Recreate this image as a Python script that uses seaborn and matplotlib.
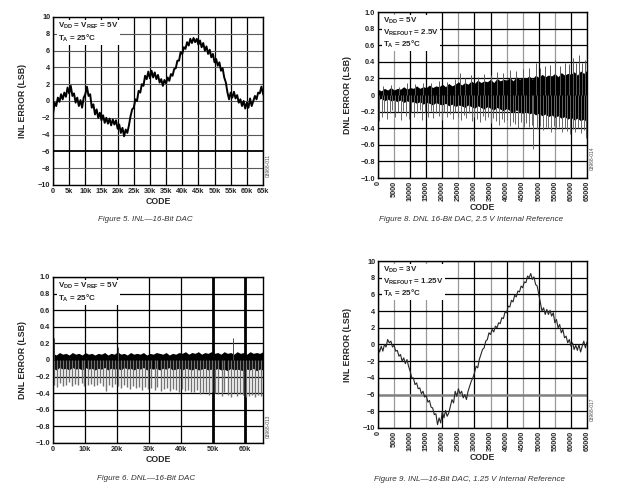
import numpy as np
import pandas as pd
import matplotlib
matplotlib.use("Agg")
import matplotlib.pyplot as plt
import seaborn as sns

sns.set_theme(style="white")
plt.rcParams["font.family"] = ["Liberation Sans", "DejaVu Sans"]
plt.rcParams["mathtext.default"] = "regular"

# Figure 5 : INL 16 bits, VDD = VREF = 5V (lu tous les 500 codes)
inl5_code = np.arange(0, 65501, 500)
inl5_lsb = [-1.5, -0.2, -0.6, 0.4, -0.1, 0.8, 0.2, 1.0, 0.5, 1.6,
            0.9, 1.8, 0.6, 0.9, -0.2, 0.4, -0.6, 0.1, -0.8, 0.4,
            0.8, 1.7, 0.6, 0.8, -0.8, -0.4, -1.6, -1.0, -2.0, -1.4,
            -2.3, -1.7, -2.6, -2.0, -2.7, -2.1, -2.9, -2.2, -2.8, -2.3,
            -3.3, -2.8, -3.8, -3.2, -4.2, -3.4, -3.8, -2.9, -1.8, -1.0,
            -0.8, 0.2, 0.0, 1.2, 1.0, 2.0, 1.8, 3.0, 2.6, 3.5,
            2.7, 3.6, 2.8, 3.4, 2.6, 3.1, 2.2, 2.6, 1.8, 2.5,
            2.1, 2.8, 2.4, 3.2, 3.0, 3.8, 3.9, 4.8, 4.8, 5.8,
            5.6, 6.4, 6.2, 7.0, 6.6, 7.4, 6.9, 7.5, 7.0, 7.4,
            6.7, 7.2, 6.4, 6.9, 6.0, 6.5, 5.6, 6.1, 5.2, 5.6,
            4.6, 5.0, 4.2, 4.6, 3.6, 3.9, 2.8, 2.2, 1.0, 0.2,
            1.0, 0.4, 1.1, 0.3, 0.7, -0.2, 0.2, -0.6, 0.0, -0.9,
            -0.2, -0.8, 0.3, -0.6, 0.0, 0.6, 0.2, 1.0, 0.9, 1.7,
            0.9, 0.4]

# Figure 9 : INL 16 bits, reference interne 1.25V
inl9_code = np.arange(0, 65501, 500)
inl9_lsb = [-0.3, -0.9, -0.2, -0.8, 0.0, -0.3, 0.6, 0.2, 0.4, -0.3,
            -0.1, -0.8, -0.7, -1.4, -1.2, -2.0, -1.6, -2.3, -1.8, -2.6,
            -3.2, -4.0, -4.0, -4.8, -4.6, -5.3, -5.2, -5.9, -5.6, -6.3,
            -6.1, -6.9, -6.7, -7.5, -7.6, -8.4, -8.3, -9.6, -8.8, -9.4,
            -8.0, -8.8, -7.9, -8.6, -8.2, -7.4, -6.6, -7.0, -5.6, -6.2,
            -5.3, -5.9, -5.6, -6.4, -6.0, -6.6, -5.6, -5.0, -4.4, -4.0,
            -3.4, -2.6, -2.8, -1.8, -1.2, -0.6, -0.4, 0.4, 0.6, 1.4,
            1.2, 1.8, 1.5, 2.2, 2.0, 2.6, 2.5, 3.2, 3.1, 3.9,
            3.8, 4.6, 4.5, 5.3, 5.1, 5.9, 5.7, 6.4, 6.3, 7.0,
            6.8, 7.5, 7.4, 8.2, 8.0, 8.5, 7.8, 8.1, 7.2, 7.0,
            6.0, 5.0, 4.0, 4.4, 3.6, 4.2, 3.6, 4.1, 3.4, 3.8,
            2.6, 3.0, 2.0, 2.4, 1.4, 1.8, 0.8, 1.0, 0.2, 0.6,
            -0.2, 0.2, -0.6, -0.1, -0.7, 0.0, -0.9, -0.2, 0.4, -0.4,
            0.3, 0.0]

# Figure 8 : DNL 16 bits, reference interne 2.5V (bande noire lue tous les 1000 codes + pics)
dnl8_code = np.arange(0, 65001, 1000)
dnl8_haut = [0.07, 0.05, 0.08, 0.06, 0.09, 0.06, 0.08, 0.07, 0.10, 0.07,
             0.09, 0.08, 0.11, 0.08, 0.10, 0.09, 0.12, 0.09, 0.11, 0.10,
             0.13, 0.10, 0.14, 0.11, 0.13, 0.16, 0.12, 0.15, 0.13, 0.17,
             0.14, 0.18, 0.15, 0.17, 0.16, 0.19, 0.15, 0.20, 0.17, 0.19,
             0.18, 0.21, 0.17, 0.22, 0.19, 0.21, 0.20, 0.23, 0.19, 0.24,
             0.21, 0.25, 0.22, 0.24, 0.23, 0.26, 0.22, 0.27, 0.24, 0.26,
             0.25, 0.28, 0.24, 0.29, 0.26, 0.30]
dnl8_bas = [-0.06, -0.04, -0.07, -0.05, -0.07, -0.06, -0.08, -0.06, -0.09, -0.07,
            -0.09, -0.08, -0.10, -0.08, -0.11, -0.09, -0.10, -0.12, -0.09, -0.11,
            -0.12, -0.10, -0.13, -0.11, -0.14, -0.12, -0.13, -0.15, -0.12, -0.14,
            -0.16, -0.13, -0.15, -0.17, -0.14, -0.16, -0.18, -0.15, -0.17, -0.19,
            -0.16, -0.19, -0.21, -0.18, -0.20, -0.22, -0.19, -0.23, -0.21, -0.24,
            -0.22, -0.25, -0.23, -0.26, -0.24, -0.27, -0.25, -0.28, -0.26, -0.29,
            -0.27, -0.30, -0.28, -0.31, -0.29, -0.33]
dnl8_pic_bas_code = [300, 1100, 1900, 2800, 3600, 4500, 5300, 6200, 7000, 7900,
                     8700, 9600, 10400, 11300, 12100, 13000, 13800, 14700, 15500, 16400,
                     17200, 18100, 18900, 19800, 20600, 21500, 22300, 23200, 24000, 24900,
                     25700, 26600, 27400, 28300, 29100, 30000, 30800, 31700, 32500, 33400,
                     34200, 35100, 35900, 36800, 37600, 38500, 39300, 40200, 41000, 41900,
                     42700, 43600, 44400, 45300, 46100, 47000, 47800, 48300, 49500, 50400,
                     51200, 52100, 52900, 53800, 54600, 55500, 56300, 57200, 58000, 58900,
                     59700, 60600, 61400, 62300, 63100, 64000, 64800]
dnl8_pic_bas = [-0.31, -0.26, -0.20, -0.29, -0.22, -0.18, -0.27, -0.21, -0.30, -0.19,
                -0.25, -0.29, -0.20, -0.27, -0.22, -0.18, -0.30, -0.21, -0.26, -0.19,
                -0.28, -0.22, -0.25, -0.30, -0.20, -0.27, -0.23, -0.29, -0.21, -0.26,
                -0.30, -0.24, -0.28, -0.22, -0.31, -0.26, -0.29, -0.33, -0.25, -0.30,
                -0.27, -0.34, -0.28, -0.31, -0.36, -0.29, -0.33, -0.30, -0.37, -0.32,
                -0.35, -0.40, -0.33, -0.38, -0.34, -0.39, -0.36, -0.65, -0.41, -0.37,
                -0.42, -0.38, -0.40, -0.44, -0.37, -0.41, -0.39, -0.45, -0.40, -0.43,
                -0.47, -0.41, -0.44, -0.40, -0.46, -0.42, -0.52]
dnl8_pic_haut_code = [1500, 4000, 6500, 9000, 11500, 14000, 16500, 19000, 21500, 24000,
                      25500, 27000, 29000, 31000, 33000, 35000, 37000, 39000, 41000, 43000,
                      45000, 47000, 49000, 50500, 52000, 53500, 55000, 56500, 58000, 59500,
                      60500, 61500, 62500, 63500, 64500]
dnl8_pic_haut = [0.11, 0.12, 0.10, 0.14, 0.13, 0.15, 0.14, 0.17, 0.16, 0.19,
                 0.27, 0.21, 0.24, 0.22, 0.25, 0.24, 0.28, 0.27, 0.30, 0.29,
                 0.31, 0.33, 0.38, 0.32, 0.35, 0.36, 0.42, 0.35, 0.38, 0.37,
                 0.45, 0.39, 0.48, 0.38, 0.42]

# Figure 6 : DNL 16 bits, VDD = VREF = 5V
dnl6_code = np.linspace(0, 65535, 66)
dnl6_haut = [0.08, 0.06, 0.09, 0.07, 0.08, 0.06, 0.09, 0.07, 0.08, 0.06,
             0.09, 0.07, 0.08, 0.06, 0.08, 0.07, 0.09, 0.06, 0.08, 0.07,
             0.10, 0.07, 0.08, 0.06, 0.09, 0.07, 0.08, 0.07, 0.09, 0.06,
             0.08, 0.07, 0.09, 0.08, 0.07, 0.09, 0.06, 0.08, 0.07, 0.09,
             0.08, 0.10, 0.07, 0.09, 0.08, 0.10, 0.07, 0.09, 0.08, 0.10,
             0.08, 0.09, 0.07, 0.10, 0.08, 0.09, 0.07, 0.10, 0.08, 0.09,
             0.07, 0.10, 0.08, 0.09, 0.08, 0.10]
dnl6_bas = [-0.10, -0.12, -0.09, -0.11, -0.10, -0.12, -0.09, -0.11, -0.10, -0.12,
            -0.09, -0.11, -0.10, -0.12, -0.10, -0.11, -0.09, -0.12, -0.10, -0.11,
            -0.10, -0.12, -0.09, -0.11, -0.10, -0.12, -0.10, -0.11, -0.09, -0.12,
            -0.10, -0.11, -0.10, -0.12, -0.10, -0.11, -0.09, -0.12, -0.11, -0.10,
            -0.12, -0.10, -0.11, -0.12, -0.10, -0.12, -0.11, -0.10, -0.12, -0.11,
            -0.12, -0.10, -0.12, -0.11, -0.13, -0.10, -0.12, -0.11, -0.12, -0.13,
            -0.11, -0.12, -0.10, -0.13, -0.11, -0.12]
dnl6_pic_code = [400, 1300, 2300, 3200, 4100, 5100, 6000, 7000, 7900, 8900,
                 9800, 10800, 11700, 12700, 13600, 14600, 15500, 16500, 17400, 18400,
                 19300, 20300, 21200, 22200, 23100, 24100, 25000, 26000, 26900, 27900,
                 28800, 29800, 30700, 31700, 32600, 33600, 34500, 35500, 36400, 37400,
                 38300, 39300, 40200, 41200, 42100, 43100, 44000, 45000, 45900, 46900,
                 47800, 48800, 49700, 50700, 51600, 52600, 53500, 54500, 55400, 56400,
                 57300, 58300, 59200, 60200, 61100, 62100, 63000, 64000, 64900]
dnl6_pic = [-0.30, -0.32, -0.28, -0.31, -0.30, -0.27, -0.31, -0.29, -0.30, -0.28,
            -0.31, -0.30, -0.29, -0.31, -0.30, -0.28, -0.31, -0.37, -0.30, -0.33,
            -0.29, -0.31, -0.34, -0.30, -0.33, -0.35, -0.31, -0.34, -0.33, -0.36,
            -0.32, -0.35, -0.34, -0.36, -0.33, -0.37, -0.35, -0.34, -0.37, -0.35,
            -0.36, -0.38, -0.35, -0.37, -0.36, -0.39, -0.38, -0.36, -0.41, -0.40,
            -0.38, -0.42, -0.39, -0.40, -0.41, -0.43, -0.39, -0.42, -0.44, -0.40,
            -0.43, -0.41, -0.42, -0.44, -0.43, -0.42, -0.44, -0.42, -0.43]
dnl6_pic_haut_code = [300, 20300, 56300]
dnl6_pic_haut = [0.27, 0.16, 0.27]

# graduations
inl_yticks = [10, 8, 6, 4, 2, 0, -2, -4, -6, -8, -10]
inl_ylabels = ["10", "8", "6", "4", "2", "0", "\u22122", "\u22124", "\u22126",
               "\u22128", "\u221210"]
dnl_yticks = [1.0, 0.8, 0.6, 0.4, 0.2, 0, -0.2, -0.4, -0.6, -0.8, -1.0]
dnl_ylabels = ["1.0", "0.8", "0.6", "0.4", "0.2", "0", "\u22120.2", "\u22120.4",
               "\u22120.6", "\u22120.8", "\u22121.0"]
k5_ticks = list(range(0, 65001, 5000))
k5_labels = ["0", "5k", "10k", "15k", "20k", "25k", "30k", "35k", "40k", "45k",
             "50k", "55k", "60k", "65k"]
k10_ticks = list(range(0, 60001, 10000))
k10_labels = ["0", "10k", "20k", "30k", "40k", "50k", "60k"]
full_labels = [str(v) for v in k5_ticks]


def habillage(ax, xt, xl, yt, yl, ylabel, rot=0, ylabelpad=4):
    ax.set_xticks(xt)
    ax.set_xticklabels(xl, rotation=rot, fontsize=5.3, fontweight="bold")
    ax.set_yticks(yt)
    ax.set_yticklabels(yl, fontsize=5.3, fontweight="bold")
    ax.tick_params(length=0, pad=2)
    ax.grid(True, color="black", linewidth=0.9)
    ax.set_axisbelow(True)
    for s in ax.spines.values():
        s.set_color("black")
        s.set_linewidth(1.0)
    ax.set_xlabel("CODE", fontsize=6.3, fontweight="bold", labelpad=1.5)
    ax.set_ylabel(ylabel, fontsize=6.3, fontweight="bold", labelpad=ylabelpad)


def note(ax, txt):
    ax.text(0.025, 0.975, txt, transform=ax.transAxes, fontsize=5.8,
            fontweight="bold", va="top", ha="left", linespacing=1.15,
            bbox=dict(facecolor="white", edgecolor="none", pad=0.6), zorder=5)


fig = plt.figure(figsize=(6.2, 4.92), dpi=100)
ax5 = fig.add_axes([0.0855, 0.624, 0.3387, 0.3415])
ax8 = fig.add_axes([0.6097, 0.6382, 0.3371, 0.3374])
ax6 = fig.add_axes([0.0855, 0.0996, 0.3387, 0.3374])
ax9 = fig.add_axes([0.6097, 0.1301, 0.3371, 0.3394])

# --- Figure 5
df5 = pd.DataFrame({"code": inl5_code, "lsb": inl5_lsb})
sns.lineplot(data=df5, x="code", y="lsb", ax=ax5, color="black", linewidth=1.4)
ax5.set_xlim(0, 65000)
ax5.set_ylim(-10, 10)
habillage(ax5, k5_ticks, k5_labels, inl_yticks, inl_ylabels,
          "INL ERROR (LSB)", ylabelpad=8)
for gl in ax5.get_ygridlines():
    gl.set_color("0.35")
    gl.set_linewidth(0.8)
ax5.get_ygridlines()[8].set_color("black")
ax5.get_ygridlines()[8].set_linewidth(1.3)
note(ax5, "V$_{DD}$ = V$_{REF}$ = 5V\nT$_A$ = 25\u00b0C")

# --- Figure 8
ax8.vlines(dnl8_pic_bas_code, 0, dnl8_pic_bas, color="0.4", linewidth=0.7)
ax8.vlines(dnl8_pic_haut_code, 0, dnl8_pic_haut, color="0.35", linewidth=0.7)
ax8.fill_between(dnl8_code, dnl8_bas, dnl8_haut, color="black", linewidth=0)
ax8.set_xlim(0, 65000)
ax8.set_ylim(-1, 1)
habillage(ax8, k5_ticks, full_labels, dnl_yticks, dnl_ylabels,
          "DNL ERROR (LSB)", rot=90, ylabelpad=6)
for i in [1, 5, 8, 9, 11, 13]:
    ax8.get_xgridlines()[i].set_color("0.6")
note(ax8, "V$_{DD}$ = 5V\nV$_{REFOUT}$ = 2.5V\nT$_A$ = 25\u00b0C")

# --- Figure 6
ax6.vlines(dnl6_pic_code, 0, dnl6_pic, color="0.45", linewidth=1.0)
ax6.vlines(dnl6_pic_haut_code, 0, dnl6_pic_haut, color="0.3", linewidth=0.7)
ax6.fill_between(dnl6_code, dnl6_bas, dnl6_haut, color="black", linewidth=0)
ax6.set_xlim(0, 65535)
ax6.set_ylim(-1, 1)
habillage(ax6, k10_ticks, k10_labels, dnl_yticks, dnl_ylabels,
          "DNL ERROR (LSB)", ylabelpad=6)
for i in [5, 6]:
    ax6.get_xgridlines()[i].set_linewidth(2.0)
note(ax6, "V$_{DD}$ = V$_{REF}$ = 5V\nT$_A$ = 25\u00b0C")

# --- Figure 9
df9 = pd.DataFrame({"code": inl9_code, "lsb": inl9_lsb})
sns.lineplot(data=df9, x="code", y="lsb", ax=ax9, color="0.15", linewidth=0.8)
ax9.set_xlim(0, 65000)
ax9.set_ylim(-10, 10)
habillage(ax9, k5_ticks, full_labels, inl_yticks, inl_ylabels,
          "INL ERROR (LSB)", rot=90, ylabelpad=8)
for i in [1, 3, 5, 7, 9, 11, 13]:
    ax9.get_xgridlines()[i].set_color("0.6")
ax9.get_ygridlines()[8].set_color("0.5")
ax9.get_ygridlines()[8].set_linewidth(1.8)
note(ax9, "V$_{DD}$ = 3V\nV$_{REFOUT}$ = 1.25V\nT$_A$ = 25\u00b0C")

# references des figures (texte vertical a droite)
for (x, y, t) in [(0.432, 0.64, "03968-011"), (0.955, 0.655, "03968-014"),
                  (0.432, 0.11, "03968-013"), (0.955, 0.145, "03968-017")]:
    fig.text(x, y, t, rotation=90, fontsize=3.5, color="0.3", ha="center", va="bottom")

# legendes des figures
cap = dict(fontsize=5.8, style="italic", color="0.2", ha="center", va="center")
fig.text(0.235, 0.553, "Figure 5. INL\u201416-Bit DAC", **cap)
fig.text(0.760, 0.553, "Figure 8. DNL 16-Bit DAC, 2.5 V Internal Reference", **cap)
fig.text(0.235, 0.027, "Figure 6. DNL\u201416-Bit DAC", **cap)
fig.text(0.758, 0.026, "Figure 9. INL\u201416-Bit DAC, 1.25 V Internal Reference", **cap)

fig.savefig("out.png", dpi=100)
